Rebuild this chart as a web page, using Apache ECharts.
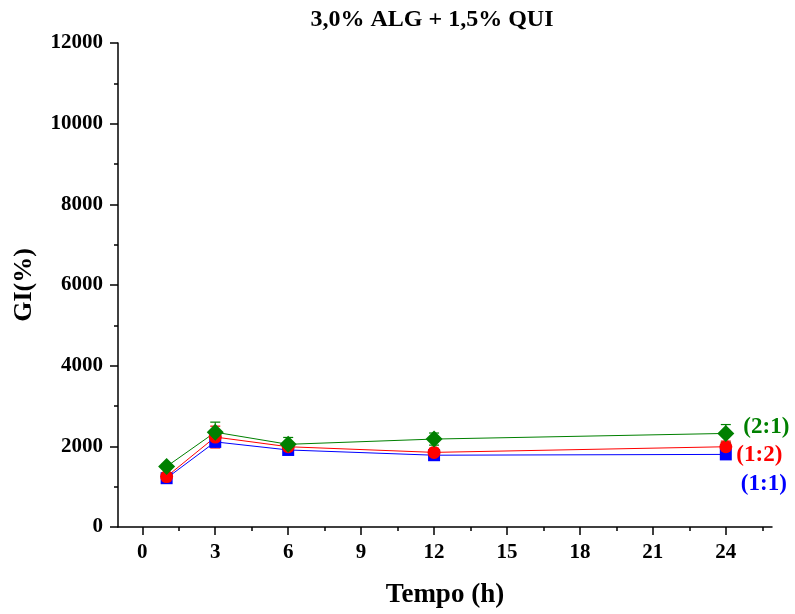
<!DOCTYPE html>
<html>
<head>
<meta charset="utf-8">
<script src="https://cdn.jsdelivr.net/npm/echarts@6/dist/echarts.min.js"></script>
<style>
  html, body { margin: 0; padding: 0; background: #fff; }
  #chart { width: 795px; height: 614px; }
</style>
</head>
<body>
<div id="chart"></div>
<script>
// Sampling times (h)
const times = [1, 3, 6, 12, 24];

// GI(%) means and standard deviations for each ratio
const gi11 = [1210, 2110, 1910, 1780, 1800];
const sd11 = [50, 90, 80, 70, 70];
const gi12 = [1250, 2230, 1990, 1850, 1990];
const sd12 = [60, 270, 120, 100, 140];
const gi21 = [1500, 2350, 2050, 2180, 2320];
const sd21 = [60, 250, 170, 150, 220];

const seriesNames = ['(1:1)', '(1:2)', '(2:1)'];
const xTickValues = [0, 3, 6, 9, 12, 15, 18, 21, 24];
const xMinorValues = [1.5, 4.5, 7.5, 10.5, 13.5, 16.5, 19.5, 22.5, 25.5];

const FONT = 'Liberation Serif';
const colors = ['#0000ff', '#ff0000', '#008000'];

function pairs(ys) { return times.map((t, i) => [t, ys[i]]); }

function errorSeries(ys, sds, color) {
  return {
    type: 'custom',
    silent: true,
    z: 2,
    data: times.map((t, i) => [t, ys[i] - sds[i], ys[i] + sds[i]]),
    renderItem: function (params, api) {
      const lo = api.coord([api.value(0), api.value(1)]);
      const hi = api.coord([api.value(0), api.value(2)]);
      const w = 5;
      const st = { stroke: color, lineWidth: 1.2 };
      return {
        type: 'group',
        children: [
          { type: 'line', shape: { x1: hi[0], y1: hi[1], x2: lo[0], y2: lo[1] }, style: st },
          { type: 'line', shape: { x1: hi[0] - w, y1: hi[1], x2: hi[0] + w, y2: hi[1] }, style: st },
          { type: 'line', shape: { x1: lo[0] - w, y1: lo[1], x2: lo[0] + w, y2: lo[1] }, style: st }
        ]
      };
    }
  };
}

function lineSeries(name, ys, color, symbol, size, labelOffset) {
  const data = pairs(ys).map((p, i) => {
    if (i !== times.length - 1) return p;
    return {
      value: p,
      label: {
        show: true,
        formatter: name,
        position: 'right',
        distance: 12,
        offset: labelOffset,
        color: color,
        fontFamily: FONT,
        fontWeight: 'bold',
        fontSize: 23
      }
    };
  });
  return {
    name: name,
    type: 'line',
    z: 3,
    data: data,
    symbol: symbol,
    symbolSize: size,
    showAllSymbol: true,
    lineStyle: { color: color, width: 1 },
    itemStyle: { color: color },
    emphasis: { disabled: true }
  };
}

const baseX = {
  type: 'value',
  min: -1,
  max: 25.9,
  splitLine: { show: false },
};

const chart = echarts.init(document.getElementById('chart'));
chart.setOption({
  animation: false,
  backgroundColor: '#fff',
  title: {
    text: '3,0% ALG + 1,5% QUI',
    left: 427,
    top: 3,
    textAlign: 'center',
    textStyle: { fontFamily: FONT, fontWeight: 'bold', fontSize: 24, color: '#000' }
  },
  grid: { left: 118, right: 23, top: 43, bottom: 87 },
  xAxis: [
    Object.assign({}, baseX, {
      name: 'Tempo (h)',
      nameLocation: 'middle',
      nameGap: 55,
      nameTextStyle: { fontFamily: FONT, fontWeight: 'bold', fontSize: 27, color: '#000' },
      axisLine: { show: true, onZero: false, lineStyle: { color: '#000', width: 1.5 } },
      axisTick: { show: true, inside: false, length: 8, customValues: xTickValues, lineStyle: { color: '#000', width: 1.5 } },
      axisLabel: {
        customValues: xTickValues,
        margin: 15,
        fontFamily: FONT, fontWeight: 'bold', fontSize: 21, color: '#000'
      }
    }),
    Object.assign({}, baseX, {
      position: 'bottom',
      axisLine: { show: false, onZero: false },
      axisTick: { show: true, inside: false, length: 4, customValues: xMinorValues, lineStyle: { color: '#000', width: 1.5 } },
      axisLabel: { show: false }
    })
  ],
  yAxis: {
    type: 'value',
    min: 0,
    max: 12000,
    interval: 2000,
    name: 'GI(%)',
    nameLocation: 'middle',
    nameGap: 81,
    nameRotate: 90,
    nameTextStyle: { fontFamily: FONT, fontWeight: 'bold', fontSize: 26, color: '#000' },
    splitLine: { show: false },
    axisLine: { show: true, onZero: false, lineStyle: { color: '#000', width: 1.5 } },
    axisTick: { show: true, inside: false, length: 8, lineStyle: { color: '#000', width: 1.5 } },
    minorTick: { show: true, splitNumber: 2, length: 4, lineStyle: { color: '#000', width: 1.5 } },
    axisLabel: {
      margin: 15,
      formatter: function (v) { return String(v); },
      fontFamily: FONT, fontWeight: 'bold', fontSize: 21, color: '#000'
    }
  },
  series: [
    errorSeries(gi11, sd11, colors[0]),
    lineSeries(seriesNames[0], gi11, colors[0], 'rect', 12, [-3, 30]),
    errorSeries(gi12, sd12, colors[1]),
    lineSeries(seriesNames[1], gi12, colors[1], 'circle', 13, [-8, 8]),
    errorSeries(gi21, sd21, colors[2]),
    lineSeries(seriesNames[2], gi21, colors[2], 'diamond', 17, [-3, -6])
  ]
});
</script>
</body>
</html>
